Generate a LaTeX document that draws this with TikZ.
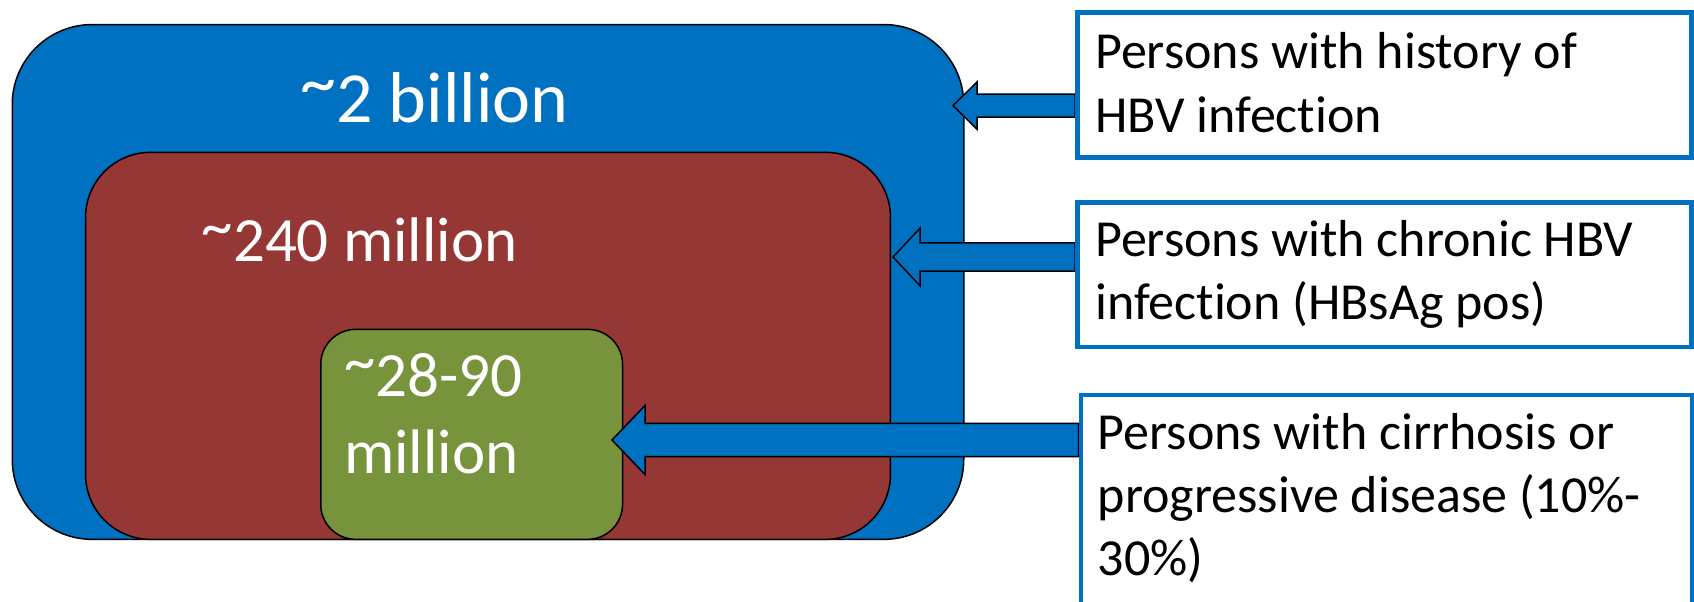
\documentclass[tikz,border=0pt]{standalone}
\usepackage{fontspec}
\setmainfont[Ligatures={NoCommon,TeX}]{Carlito}
\usetikzlibrary{calc}
\definecolor{hbvblue}{HTML}{0070C0}
\definecolor{hbvred}{HTML}{953735}
\definecolor{hbvgreen}{HTML}{77933C}
\newcommand\hightilde{\raisebox{0.22em}{\textasciitilde}}
\tikzset{
  pop/.style={draw=black, line width=1.5pt, anchor=north west, inner sep=0pt},
  infobox/.style={draw=hbvblue, line width=4.5pt, fill=white, anchor=north west, inner sep=0pt},
  barrow/.style={draw=black, fill=hbvblue, line width=1.5pt, line join=miter},
  biglabel/.style={text=white, anchor=base west, inner sep=0pt},
  boxtext/.style={text=black, anchor=base west, inner sep=0pt, font=\fontsize{52}{63}\selectfont},
}
% #1 tail node, #2 tip coordinate, #3 head length, #4 head half height, #5 shaft half height
\newcommand\blockarrow[5]{%
  \draw[barrow] let \p1=(#1.west), \p2=(#2) in
    (\p2) -- (\x2+#3pt,\y2+#4pt) -- (\x2+#3pt,\y2+#5pt) -- (\x1,\y2+#5pt)
    -- (\x1,\y2-#5pt) -- (\x2+#3pt,\y2-#5pt) -- (\x2+#3pt,\y2-#4pt) -- cycle;}
\begin{document}
\begin{tikzpicture}[x=1pt,y=-1pt]
\useasboundingbox (0,0) rectangle (1694,602);
\clip (0,0) rectangle (1694,602);

% nested population boxes
\node[pop, fill=hbvblue, rounded corners=80pt, minimum width=951.5pt, minimum height=514.8pt] (blue) at (11.5,23.8) {};
\node[pop, fill=hbvred, rounded corners=65pt, minimum width=804.9pt, minimum height=387pt] (red) at (84.8,151.6) {};
\node[pop, fill=hbvgreen, rounded corners=35pt, minimum width=301.8pt, minimum height=210pt] (green) at (320,328.6) {};

\node[biglabel, font=\fontsize{72}{86}\selectfont] (lblue) at (300,122) {\hightilde2 billion};
\node[biglabel, font=\fontsize{63}{77}\selectfont] (lred) at (201.5,261.8) {\hightilde240 million};
\node[biglabel, font=\fontsize{63}{77}\selectfont] (lgreen1) at (344,396.5) {\hightilde28-90};
\node[biglabel, font=\fontsize{63}{77}\selectfont] (lgreen2) at (344,473) {million};

% arrow tips
\coordinate (t1) at (953,105.6);
\coordinate (t2) at (893,257);
\coordinate (t3) at (612,440);

% info box frames (named first so the arrows can refer to them; drawn on top afterwards)
\node[infobox, minimum width=614pt, minimum height=144.5pt, draw=none, fill=none] (b1) at (1075,10.5) {};
\node[infobox, minimum width=614pt, minimum height=144.5pt, draw=none, fill=none] (b2) at (1075,200) {};
\node[infobox, minimum width=611.5pt, minimum height=260pt, draw=none, fill=none] (b3) at (1078.5,392.5) {};

\blockarrow{b1}{t1}{24}{23.6}{11.5}
\blockarrow{b2}{t2}{27}{28.8}{14.2}
\blockarrow{b3}{t3}{33}{34.5}{16.7}

\node[infobox, minimum width=614pt, minimum height=144.5pt] at (b1.north west) {};
\node[infobox, minimum width=614pt, minimum height=144.5pt] at (b2.north west) {};
\node[infobox, minimum width=611.5pt, minimum height=260pt] at (b3.north west) {};

\node[boxtext] (p1a) at (1095,69) {Persons with history of};
\node[boxtext] (p1b) at (1095,132.4) {HBV infection};
\node[boxtext] (p2a) at (1095,256.4) {Persons with chronic HBV};
\node[boxtext] (p2b) at (1095,319.8) {infection (HBsAg pos)};
\node[boxtext] (p3a) at (1097.5,449) {Persons with cirrhosis or};
\node[boxtext] (p3b) at (1097.5,512.5) {progressive disease (10\%-};
\node[boxtext] (p3c) at (1097.5,575.8) {30\%)};
\end{tikzpicture}
\end{document}
